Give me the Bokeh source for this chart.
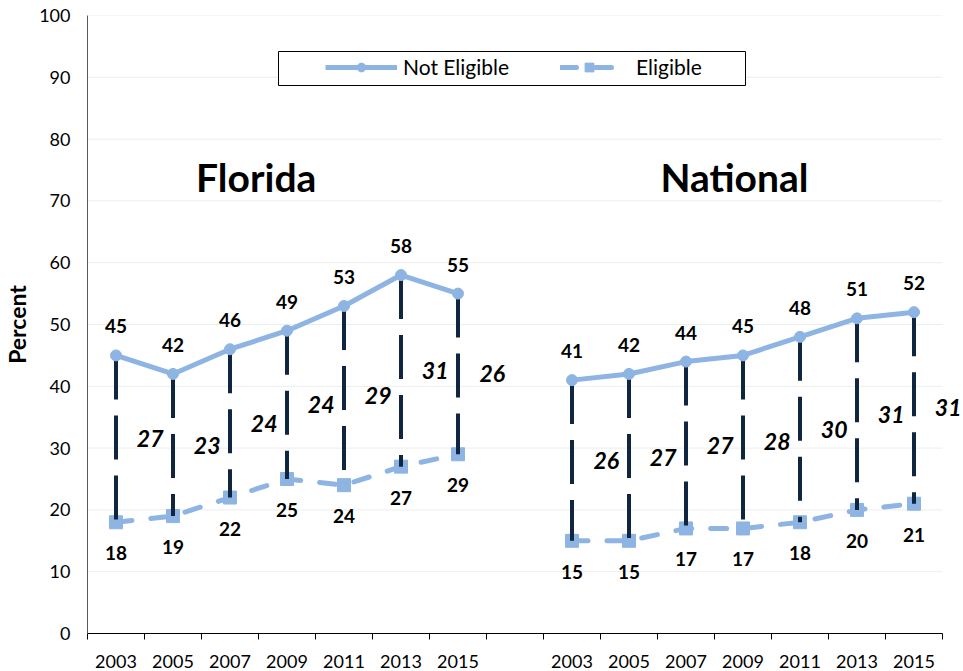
import numpy as np
from bokeh.plotting import figure
from bokeh.models import (FixedTicker, Range1d, Legend, LegendItem, Label,
                          BoxAnnotation, ColumnDataSource)
from bokeh.core.properties import value
from bokeh.embed import file_html
from bokeh.resources import INLINE

# ---------------- data ----------------
years = ["2003", "2005", "2007", "2009", "2011", "2013", "2015"]
groups = ["Florida", "National"]
florida_not_eligible = [45, 42, 46, 49, 53, 58, 55]
florida_eligible = [18, 19, 22, 25, 24, 27, 29]
florida_gap = [27, 23, 24, 24, 29, 31, 26]
national_not_eligible = [41, 42, 44, 45, 48, 51, 52]
national_eligible = [15, 15, 17, 17, 18, 20, 21]
national_gap = [26, 27, 27, 28, 30, 31, 31]
y_ticks = [0, 10, 20, 30, 40, 50, 60, 70, 80, 90, 100]
series_names = ["Not Eligible", "Eligible"]

# ---------------- style ----------------
FONT_NAME = "Lato"
FONT = value(FONT_NAME)
LIGHT = "#8EB4E3"
DARK = "#10253F"
SLOT_PX = 57          # width of one category slot
EXTRA_PX = 21         # room right of the axis for the last gap label
GAP_LABEL_SHIFT = 0.6

n = len(years)
slot_start = {"Florida": 0, "National": n + 1}
total_slots = 2 * n + 1
x_lo = -0.5
x_hi = total_slots - 0.5
x_end = x_hi + EXTRA_PX / SLOT_PX

p = figure(frame_width=SLOT_PX * total_slots + EXTRA_PX, frame_height=618,
           output_backend="svg", toolbar_location=None,
           x_range=Range1d(x_lo, x_end), y_range=Range1d(0, 100),
           min_border_left=87, min_border_right=0, min_border_top=15,
           min_border_bottom=36)
p.outline_line_color = None
p.background_fill_color = "white"
p.xgrid.visible = False
p.ygrid.visible = False

# horizontal gridlines limited to the category area
p.segment(x0=x_lo, x1=x_hi, y0=y_ticks[1:], y1=y_ticks[1:],
          line_color="#EDEDED", line_width=1, level="underlay")

data = {
    "Florida": (florida_not_eligible, florida_eligible, florida_gap),
    "National": (national_not_eligible, national_eligible, national_gap),
}

legend_renderers = {"ne": [], "el": []}
tick_pos = []
overrides = {}
for g in groups:
    ne, el, gap = data[g]
    xs = np.arange(n) + slot_start[g]
    for i, xv in enumerate(xs):
        tick_pos.append(int(xv))
        overrides[int(xv)] = years[i]
    ne = np.array(ne, dtype=float)
    el = np.array(el, dtype=float)
    src = ColumnDataSource(dict(
        x=xs, ne=ne, el=el,
        ne_txt=[str(int(v)) for v in ne],
        el_txt=[str(int(v)) for v in el],
        gap_x=xs + GAP_LABEL_SHIFT, gap_y=(ne + el) / 2,
        gap_txt=[str(v) for v in gap],
    ))
    l_el = p.line("x", "el", source=src, line_color=LIGHT, line_width=5,
                  line_dash="16 19", line_cap="round")
    m_el = p.scatter("x", "el", source=src, marker="square", size=13,
                     fill_color=LIGHT, line_color=LIGHT)
    p.segment(x0="x", y0="ne", x1="x", y1="el", source=src,
              line_color=DARK, line_width=4, line_dash="44 16")
    l_ne = p.line("x", "ne", source=src, line_color=LIGHT, line_width=5,
                  line_join="round")
    m_ne = p.scatter("x", "ne", source=src, marker="circle", size=11,
                     fill_color=LIGHT, line_color=LIGHT)
    if g == "Florida":
        legend_renderers["ne"] = [l_ne, m_ne]
        legend_renderers["el"] = [l_el, m_el]
    p.text("x", "ne", text="ne_txt", source=src, text_font=FONT,
           text_font_style="bold", text_font_size="19px", text_color="black",
           text_align="center", text_baseline="middle", y_offset=-29)
    p.text("x", "el", text="el_txt", source=src, text_font=FONT,
           text_font_style="bold", text_font_size="19px", text_color="black",
           text_align="center", text_baseline="middle", y_offset=31)
    p.text("gap_x", "gap_y", text="gap_txt", source=src, text_font=FONT,
           text_font_style="bold italic", text_font_size="23px",
           text_color="black", text_align="center", text_baseline="middle")

# group titles
p.add_layout(Label(x=2.46, y=73.8, text=groups[0], text_font=FONT_NAME,
                   text_font_style="bold", text_font_size="39px",
                   text_align="center", text_baseline="middle",
                   text_color="black"))
p.add_layout(Label(x=10.85, y=73.8, text=groups[1], text_font=FONT_NAME,
                   text_font_style="bold", text_font_size="39px",
                   text_align="center", text_baseline="middle",
                   text_color="black"))

# x axis
boundaries = [b - 0.5 for b in range(total_slots + 1)]
p.xaxis.bounds = (x_lo, x_hi)
p.xaxis.ticker = FixedTicker(ticks=tick_pos, minor_ticks=boundaries)
p.xaxis.major_label_overrides = overrides
p.xaxis.major_tick_out = 0
p.xaxis.major_tick_in = 0
p.xaxis.minor_tick_out = 6
p.xaxis.minor_tick_in = 0
p.xaxis.minor_tick_line_color = "black"
p.xaxis.axis_line_color = "black"
p.xaxis.major_label_text_font = FONT_NAME
p.xaxis.major_label_text_font_size = "18px"
p.xaxis.major_label_text_color = "black"
p.xaxis.major_label_standoff = 15

# y axis
p.yaxis.ticker = FixedTicker(ticks=y_ticks)
p.yaxis.major_tick_out = 0
p.yaxis.major_tick_in = 0
p.yaxis.minor_tick_line_color = None
p.yaxis.axis_line_color = "#595959"
p.yaxis.major_label_text_font = FONT_NAME
p.yaxis.major_label_text_font_size = "18px"
p.yaxis.major_label_text_color = "black"
p.yaxis.major_label_standoff = 17
p.yaxis.axis_label = "Percent"
p.yaxis.axis_label_text_font = FONT_NAME
p.yaxis.axis_label_text_font_style = "bold"
p.yaxis.axis_label_text_font_size = "23px"
p.yaxis.axis_label_text_color = "black"
p.yaxis.axis_label_standoff = 5

# legend
box = BoxAnnotation(left=191, right=658, bottom=548, top=582,
                    left_units="screen", right_units="screen",
                    top_units="screen", bottom_units="screen",
                    fill_color="white", fill_alpha=1.0,
                    line_color="black", line_width=1, line_alpha=1.0)
p.add_layout(box)

for key, label, loc in [("ne", series_names[0], (238, 554)),
                        ("el", series_names[1], (473, 554))]:
    lg = Legend(items=[LegendItem(label=label, renderers=legend_renderers[key])],
                location=loc, orientation="horizontal",
                glyph_width=72 if key == "ne" else 58, glyph_height=22,
                label_standoff=6 if key == "ne" else 18, padding=0, margin=0,
                border_line_alpha=0, background_fill_alpha=0,
                label_text_font=FONT_NAME, label_text_font_size="21px",
                label_text_color="black")
    p.add_layout(lg)

open("out.html", "w").write(file_html(p, INLINE))
